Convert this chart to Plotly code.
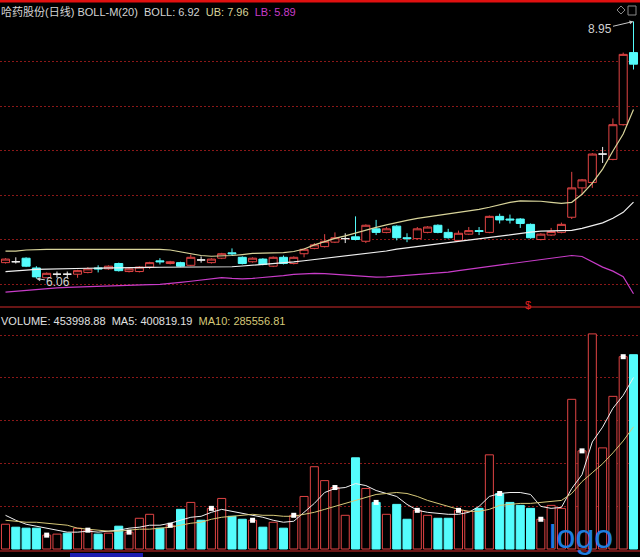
import plotly.graph_objects as go

W, H = 640, 557

# ---------------- data ----------------
idx = list(range(62))

opens = [6.24, 6.25, 6.29, 6.18, 6.07, 6.11, 6.11, 6.11, 6.13, 6.18,
         6.17, 6.23, 6.14, 6.14, 6.19, 6.26, 6.23, 6.24, 6.21, 6.27,
         6.24, 6.29, 6.35, 6.30, 6.25, 6.28, 6.20, 6.30, 6.23, 6.34,
         6.40, 6.42, 6.47, 6.51, 6.53, 6.48, 6.62, 6.58, 6.65, 6.52,
         6.51, 6.58, 6.66, 6.58, 6.49, 6.56, 6.60, 6.58, 6.76, 6.73,
         6.73, 6.67, 6.50, 6.55, 6.58, 6.75, 7.08, 7.14, 7.46, 7.40,
         7.79, 8.60]
highs = [6.29, 6.30, 6.30, 6.20, 6.13, 6.14, 6.14, 6.16, 6.19, 6.21,
         6.21, 6.24, 6.19, 6.20, 6.25, 6.29, 6.26, 6.25, 6.33, 6.31,
         6.29, 6.35, 6.40, 6.31, 6.30, 6.29, 6.31, 6.32, 6.31, 6.40,
         6.46, 6.56, 6.58, 6.57, 6.76, 6.67, 6.72, 6.64, 6.66, 6.57,
         6.64, 6.65, 6.67, 6.62, 6.60, 6.64, 6.64, 6.77, 6.79, 6.78,
         6.74, 6.68, 6.57, 6.63, 6.69, 7.26, 7.18, 7.47, 7.54, 7.86,
         8.60, 8.95]
lows = [6.23, 6.23, 6.19, 6.06, 6.07, 6.07, 6.07, 6.07, 6.12, 6.13,
        6.16, 6.14, 6.13, 6.13, 6.17, 6.22, 6.22, 6.19, 6.20, 6.24,
        6.23, 6.28, 6.32, 6.22, 6.24, 6.21, 6.19, 6.22, 6.22, 6.30,
        6.39, 6.41, 6.46, 6.46, 6.49, 6.46, 6.55, 6.57, 6.49, 6.47,
        6.50, 6.57, 6.57, 6.51, 6.48, 6.55, 6.55, 6.57, 6.68, 6.68,
        6.63, 6.51, 6.49, 6.54, 6.57, 6.73, 7.00, 7.08, 7.36, 7.39,
        7.78, 8.41]
closes = [6.28, 6.25, 6.20, 6.08, 6.12, 6.11, 6.11, 6.15, 6.17, 6.17,
          6.20, 6.15, 6.17, 6.19, 6.24, 6.25, 6.25, 6.20, 6.30, 6.27,
          6.28, 6.34, 6.34, 6.23, 6.29, 6.22, 6.30, 6.23, 6.30, 6.39,
          6.44, 6.48, 6.52, 6.51, 6.50, 6.66, 6.58, 6.62, 6.52, 6.51,
          6.62, 6.64, 6.58, 6.52, 6.57, 6.60, 6.59, 6.76, 6.72, 6.72,
          6.68, 6.52, 6.56, 6.59, 6.67, 7.08, 7.17, 7.46, 7.46, 7.79,
          8.58, 8.47]

boll_ub = [6.369, 6.369, 6.382, 6.388, 6.388, 6.388, 6.388, 6.393, 6.393, 6.393,
           6.393, 6.393, 6.393, 6.393, 6.393, 6.388, 6.382, 6.360, 6.337, 6.320,
           6.312, 6.312, 6.320, 6.331, 6.343, 6.346, 6.348, 6.352, 6.365, 6.393,
           6.439, 6.478, 6.512, 6.540, 6.574, 6.608, 6.636, 6.664, 6.693, 6.715,
           6.738, 6.755, 6.772, 6.783, 6.798, 6.817, 6.839, 6.862, 6.890, 6.918,
           6.933, 6.933, 6.930, 6.918, 6.907, 6.918, 7.009, 7.133, 7.291, 7.494,
           7.686, 7.96]
boll_mid = [6.140, 6.145, 6.156, 6.165, 6.169, 6.173, 6.175, 6.177, 6.177, 6.179,
            6.179, 6.181, 6.182, 6.185, 6.187, 6.188, 6.188, 6.188, 6.188, 6.190,
            6.193, 6.190, 6.194, 6.202, 6.210, 6.221, 6.230, 6.238, 6.249, 6.261,
            6.275, 6.290, 6.303, 6.317, 6.328, 6.340, 6.354, 6.371, 6.391, 6.407,
            6.419, 6.435, 6.451, 6.465, 6.478, 6.493, 6.509, 6.528, 6.546, 6.559,
            6.572, 6.583, 6.594, 6.599, 6.602, 6.602, 6.625, 6.653, 6.687, 6.738,
            6.805, 6.92]
boll_lb = [5.908, 5.919, 5.930, 5.941, 5.950, 5.957, 5.962, 5.965, 5.967, 5.970,
           5.975, 5.979, 5.984, 5.987, 5.992, 5.996, 6.004, 6.019, 6.031, 6.045,
           6.057, 6.072, 6.063, 6.058, 6.063, 6.072, 6.083, 6.094, 6.108, 6.116,
           6.119, 6.117, 6.109, 6.101, 6.094, 6.085, 6.077, 6.080, 6.089, 6.097,
           6.105, 6.110, 6.117, 6.134, 6.151, 6.167, 6.181, 6.198, 6.216, 6.231,
           6.247, 6.263, 6.277, 6.292, 6.304, 6.320, 6.309, 6.252, 6.190, 6.145,
           6.083, 5.89]

volume = [57900, 50950, 48640, 48640, 32420, 34740, 37060, 48640, 44000, 34740,
          37060, 53270, 39370, 71800, 81060, 48640, 55580, 92640, 108850, 67160,
          94960, 118120, 76430, 69480, 67160, 50950, 62530, 48640, 78740, 122750,
          192230, 159800, 143590, 78740, 213070, 141280, 108850, 81060, 104220, 69480,
          90320, 78740, 71800, 71800, 90320, 88010, 94960, 220020, 129700, 108850,
          101900, 94960, 69480, 101900, 94960, 349720, 229280, 502570, 236230, 356660,
          449300, 453998.88]
vol_dir = ["u", "d", "d", "d", "u", "u", "d", "u", "u", "d",
           "u", "d", "u", "u", "u", "d", "u", "d", "u", "d",
           "u", "u", "d", "d", "u", "d", "u", "d", "u", "u",
           "u", "u", "u", "u", "d", "u", "d", "u", "d", "d",
           "u", "u", "d", "d", "u", "u", "d", "u", "d", "d",
           "d", "d", "u", "u", "u", "u", "u", "u", "u", "u",
           "u", "d"]
ma5 = [78740, 67160, 57900, 53270, 48640, 44000, 39370, 39370, 41690, 39370,
       41690, 44000, 48640, 50950, 55580, 55580, 60220, 67160, 74110, 76430,
       85690, 92640, 88010, 83380, 78740, 74110, 67160, 62530, 64850, 85690,
       106540, 132010, 141280, 143590, 152860, 148220, 136640, 129700, 122750, 104220,
       90320, 85690, 83380, 81060, 81060, 85690, 99590, 122750, 129700, 132010,
       132010, 127380, 99590, 94960, 97270, 141280, 173700, 250130, 284870, 328870,
       358980, 400819.19]
ma10 = [67160, 64850, 62530, 62530, 60220, 57900, 55580, 48640, 46320, 44000,
        41690, 41690, 44000, 46320, 46320, 48640, 50950, 55580, 60220, 62530,
        69480, 74110, 76430, 78740, 81060, 78740, 78740, 76430, 76430, 81060,
        85690, 92640, 99590, 106540, 113480, 120430, 127380, 129700, 132010, 129700,
        122750, 113480, 106540, 99590, 92640, 88010, 88010, 92640, 101900, 104220,
        106540, 106540, 108850, 111170, 113480, 129700, 157490, 178330, 199180, 224650,
        252440, 285556.81]

price_grid = [6.0, 6.5, 7.0, 7.5, 8.0, 8.5]
vol_grid = [100000, 200000, 300000, 400000, 500000]
marker_idx = list(range(4, 62, 4))

title_name = "哈药股份(日线)"

# ---------------- styles ----------------
RED = "#e04444"
CYAN = "#54fcfc"
WHITE = "#f0f0f0"
KHAKI = "#d8d49a"
MAGENTA = "#c83cc8"
MA10C = "#d6c878"
GRID = "#8a1818"
FONT = "Liberation Sans, Arial, Noto Sans CJK SC, sans-serif"


def py(pix):
    return 1 - pix / H


def px(pix):
    return pix / W


fig = go.Figure()

up = [i for i in idx if closes[i] > opens[i]]
dn = [i for i in idx if closes[i] < opens[i]]
dj = [i for i in idx if closes[i] == opens[i]]


def sub(arr, sel):
    return [arr[i] for i in sel]


for sel, lc, fc in [(up, RED, "#000000"), (dn, CYAN, CYAN), (dj, WHITE, WHITE)]:
    fig.add_trace(go.Candlestick(
        x=sel, open=sub(opens, sel), high=sub(highs, sel),
        low=sub(lows, sel), close=sub(closes, sel),
        increasing=dict(line=dict(color=lc, width=1), fillcolor=fc),
        decreasing=dict(line=dict(color=lc, width=1), fillcolor=fc),
        whiskerwidth=0, xaxis="x", yaxis="y", hoverinfo="skip"))

fig.add_trace(go.Scatter(x=idx, y=boll_ub, mode="lines",
                         line=dict(color=KHAKI, width=1.2), yaxis="y"))
fig.add_trace(go.Scatter(x=idx, y=boll_mid, mode="lines",
                         line=dict(color=WHITE, width=1.2), yaxis="y"))
fig.add_trace(go.Scatter(x=idx, y=boll_lb, mode="lines",
                         line=dict(color=MAGENTA, width=1.2), yaxis="y"))

# volume
fig.add_trace(go.Bar(
    x=idx, y=volume, width=0.78, yaxis="y2",
    marker=dict(color=["#000000" if d == "u" else CYAN for d in vol_dir],
                line=dict(color=[RED if d == "u" else CYAN for d in vol_dir], width=1))))
fig.add_trace(go.Scatter(x=idx, y=ma5, mode="lines",
                         line=dict(color=WHITE, width=1), yaxis="y2"))
fig.add_trace(go.Scatter(x=idx, y=ma10, mode="lines",
                         line=dict(color=MA10C, width=1), yaxis="y2"))
fig.add_trace(go.Scatter(x=marker_idx, y=sub(volume, marker_idx), mode="markers",
                         marker=dict(symbol="square", size=5, color="#ffffff"),
                         yaxis="y2"))

# ---------------- layout ----------------
x_lo = -5.5 / 10.295
x_hi = (W - 5.5) / 10.295
p_per_px = 1 / 89.0
p_top = 6.0 + (284 - 2) * p_per_px
p_bot = 6.0 - (306 - 284) * p_per_px
v_per_px = 500000 / (549 - 335)
v_top = (549 - 311) * v_per_px
v_bot = -(551 - 549) * v_per_px

fig.update_layout(
    width=W, height=H, margin=dict(l=0, r=0, t=0, b=0),
    paper_bgcolor="#000000", plot_bgcolor="#000000",
    showlegend=False, boxgap=0.22, boxgroupgap=0, bargap=0.2,
    font=dict(family=FONT, size=11, color="#d0d0d0"),
    xaxis=dict(range=[x_lo, x_hi], visible=False, rangeslider=dict(visible=False),
               fixedrange=True),
    yaxis=dict(domain=[py(306), py(2)], range=[p_bot, p_top], tickvals=price_grid,
               showticklabels=False, ticks="", zeroline=False, showline=False,
               gridcolor=GRID, griddash="2px,2px", gridwidth=1),
    yaxis2=dict(domain=[py(551), py(311)], range=[v_bot, v_top], tickvals=vol_grid,
                anchor="x", showticklabels=False, ticks="", zeroline=False,
                showline=False, gridcolor=GRID, griddash="2px,2px", gridwidth=1),
)

shapes = [
    dict(type="line", xref="paper", yref="paper", x0=0, x1=1, y0=py(1), y1=py(1),
         line=dict(color="#e01010", width=3)),
    dict(type="line", xref="paper", yref="paper", x0=0, x1=1, y0=py(307), y1=py(307),
         line=dict(color="#8c1c1c", width=1.5)),
    dict(type="line", xref="paper", yref="paper", x0=0, x1=1, y0=py(551), y1=py(551),
         line=dict(color="#8c1c1c", width=1.5)),
    dict(type="rect", xref="paper", yref="paper", x0=px(70), x1=px(143),
         y0=py(557), y1=py(553), fillcolor="#1c1cb0", line=dict(width=0)),
    dict(type="path", xref="paper", yref="paper",
         path="M %f,%f L %f,%f L %f,%f L %f,%f Z" % (
             px(617), py(10), px(621), py(6), px(625), py(10), px(621), py(14)),
         line=dict(color="#8a8a8a", width=1)),
    dict(type="rect", xref="paper", yref="paper", x0=px(628), x1=px(636),
         y0=py(15), y1=py(6), line=dict(color="#8a8a8a", width=1)),
]
fig.update_layout(shapes=shapes)

annotations = [
    dict(xref="paper", yref="paper", x=0, y=py(11), xanchor="left", yanchor="middle",
         xshift=-1, showarrow=False, font=dict(size=11, color="#d4d4d4", family=FONT),
         text=(title_name + " BOLL-M(20)&nbsp; BOLL: 6.92&nbsp; "
               "<span style='color:%s'>UB: 7.96</span>&nbsp; "
               "<span style='color:%s'>LB: 5.89</span>") % (KHAKI, MAGENTA)),
    dict(xref="paper", yref="paper", x=0, y=py(321), xanchor="left", yanchor="middle",
         xshift=-1, showarrow=False, font=dict(size=11, color="#e0e0e0", family=FONT),
         text=("VOLUME: 453998.88&nbsp; MA5: 400819.19&nbsp; "
               "<span style='color:%s'>MA10: 285556.81</span>") % MA10C),
    dict(x=61, y=highs[61], xref="x", yref="y", text="8.95", showarrow=True,
         ax=-34, ay=8, arrowhead=2, arrowsize=0.8, arrowwidth=1,
         arrowcolor="#c8c8c8", font=dict(size=12, color="#d0d0d0", family=FONT)),
    dict(x=3, y=lows[3], xref="x", yref="y", text="6.06", showarrow=True,
         ax=22, ay=3, arrowhead=2, arrowsize=0.8, arrowwidth=1,
         arrowcolor="#c8c8c8", font=dict(size=12, color="#d0d0d0", family=FONT)),
    dict(xref="paper", yref="paper", x=px(528), y=py(305), xanchor="center",
         yanchor="middle", text="$", showarrow=False,
         font=dict(size=11, color="#e02020", family=FONT)),
    dict(xref="paper", yref="paper", x=px(581), y=py(536), xanchor="center",
         yanchor="middle", text="logo", showarrow=False,
         font=dict(size=34, color="#1e7ee0", family=FONT)),
]
fig.update_layout(annotations=annotations)

fig.write_html(
    "out.html",
    config={"displayModeBar": False},
    post_script="document.body.style.margin='0';document.body.style.padding='0';"
                "document.body.style.background='#000';",
)
